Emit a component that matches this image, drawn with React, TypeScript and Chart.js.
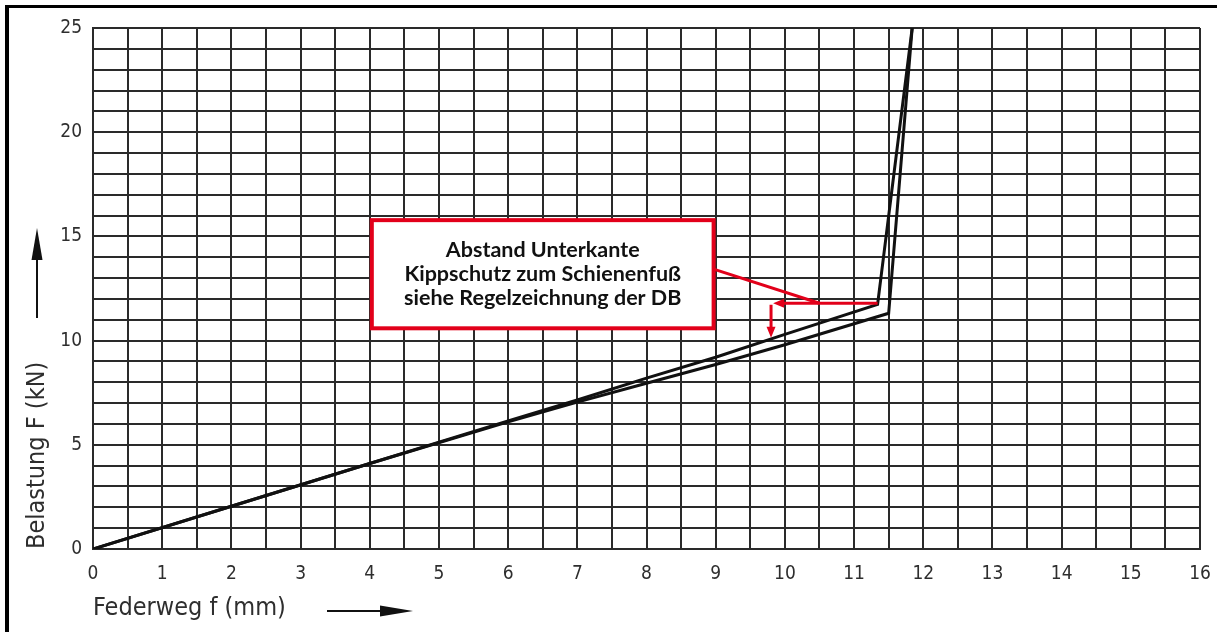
import React, { useEffect, useRef } from 'react';
import { Chart, registerables } from 'chart.js';

Chart.register(...registerables);

// ---- data ----
const upperX = [0, 2, 4, 6, 7, 8, 9, 10, 11.34, 11.84];
const upperY = [0, 2.05, 4.1, 6.15, 7.15, 8.2, 9.2, 10.3, 11.74, 25];
const lowerX = [0, 2, 4, 6, 7, 8, 9, 10, 11.5, 11.84];
const lowerY = [0, 2.05, 4.1, 6.1, 7.05, 7.95, 8.85, 9.8, 11.31, 25];

const xMin = 0;
const xMax = 16;
const xGridStep = 0.5;
const xLabelEvery = 1;
const yMin = 0;
const yMax = 25;
const yGridStep = 1;
const yLabelEvery = 5;

const xTitle = 'Federweg f (mm)';
const yTitle = 'Belastung F (kN)';

const noteLines = ['Abstand Unterkante', 'Kippschutz zum Schienenfuß', 'siehe Regelzeichnung der DB'];
// note box corners (data units)
const noteBoxX = [4.03, 8.97];
const noteBoxY = [15.78, 10.59];
// leader: box edge -> elbow
const leaderFrom = [8.97, 13.43];
const leaderTo = [10.5, 11.79];
// horizontal arrow from knee to the left, then vertical arrow downward
const hArrowFrom = [11.34, 11.79];
const hArrowTo = [9.83, 11.79];
const vArrowFrom = [9.8, 11.72];
const vArrowTo = [9.8, 10.14];

const TICK_FONT = "'DejaVu Sans Condensed', 'DejaVu Sans', sans-serif";
const NOTE_FONT = "Lato, 'Open Sans', sans-serif";
const RED = '#e2001a';
const INK = '#2e2e2e';

function arrowHead(ctx: CanvasRenderingContext2D, tx: number, ty: number, fx: number, fy: number, len: number, half: number) {
  const a = Math.atan2(ty - fy, tx - fx);
  const bx = tx - Math.cos(a) * len;
  const by = ty - Math.sin(a) * len;
  const nx = -Math.sin(a) * half;
  const ny = Math.cos(a) * half;
  ctx.beginPath();
  ctx.moveTo(tx, ty);
  ctx.lineTo(bx + nx, by + ny);
  ctx.lineTo(bx - nx, by - ny);
  ctx.closePath();
  ctx.fill();
}

const decorPlugin = {
  id: 'decor',
  beforeDraw(chart: any) {
    const ctx = chart.ctx as CanvasRenderingContext2D;
    ctx.save();
    ctx.fillStyle = '#ffffff';
    ctx.fillRect(0, 0, chart.width, chart.height);
    ctx.restore();
  },
  afterDraw(chart: any) {
    const ctx = chart.ctx as CanvasRenderingContext2D;
    const xs = chart.scales.x;
    const ys = chart.scales.y;
    const px = (v: number) => xs.getPixelForValue(v);
    const py = (v: number) => ys.getPixelForValue(v);
    ctx.save();

    // frame (top and left)
    ctx.fillStyle = '#000';
    ctx.fillRect(5, 5, chart.width - 5, 3);
    ctx.fillRect(5, 5, 4, chart.height - 5);

    // axis arrows
    ctx.strokeStyle = '#111';
    ctx.fillStyle = '#111';
    ctx.lineWidth = 2;
    const ax = 37;
    ctx.beginPath();
    ctx.moveTo(ax, 318);
    ctx.lineTo(ax, 250);
    ctx.stroke();
    arrowHead(ctx, ax, 228, ax, 318, 32, 5.5);

    const ay = 611;
    ctx.beginPath();
    ctx.moveTo(327, ay);
    ctx.lineTo(390, ay);
    ctx.stroke();
    arrowHead(ctx, 413, ay, 327, ay, 33, 5.5);

    // note box
    const bx0 = px(noteBoxX[0]);
    const bx1 = px(noteBoxX[1]);
    const by0 = py(noteBoxY[0]);
    const by1 = py(noteBoxY[1]);
    ctx.fillStyle = '#ffffff';
    ctx.fillRect(bx0, by0, bx1 - bx0, by1 - by0);
    ctx.strokeStyle = RED;
    ctx.lineWidth = 4;
    ctx.strokeRect(bx0, by0, bx1 - bx0, by1 - by0);

    ctx.fillStyle = '#111';
    ctx.font = `bold 21.5px ${NOTE_FONT}`;
    ctx.textAlign = 'center';
    ctx.textBaseline = 'middle';
    const cx = (bx0 + bx1) / 2;
    const cy = (by0 + by1) / 2;
    const lh = 24;
    noteLines.forEach((t, i) => {
      ctx.fillText(t, cx, cy + (i - (noteLines.length - 1) / 2) * lh);
    });

    // leader lines
    ctx.strokeStyle = RED;
    ctx.fillStyle = RED;
    ctx.lineWidth = 3;
    ctx.beginPath();
    ctx.moveTo(px(leaderFrom[0]), py(leaderFrom[1]));
    ctx.lineTo(px(leaderTo[0]), py(leaderTo[1]));
    ctx.stroke();

    const hx0 = px(hArrowFrom[0]);
    const hy = py(hArrowFrom[1]);
    const hx1 = px(hArrowTo[0]);
    ctx.beginPath();
    ctx.moveTo(hx0, hy);
    ctx.lineTo(hx1 + 8, hy);
    ctx.stroke();
    arrowHead(ctx, hx1, hy, hx0, hy, 11, 4.5);

    const vx = px(vArrowFrom[0]);
    const vy0 = py(vArrowFrom[1]);
    const vy1 = py(vArrowTo[1]);
    ctx.beginPath();
    ctx.moveTo(vx, vy0);
    ctx.lineTo(vx, vy1 - 8);
    ctx.stroke();
    arrowHead(ctx, vx, vy1, vx, vy0, 11, 4.5);

    ctx.restore();
  },
};

export default function App() {
  const ref = useRef<HTMLCanvasElement | null>(null);

  useEffect(() => {
    if (!ref.current) return;
    const upper = upperX.map((x, i) => ({ x, y: upperY[i] }));
    const lower = lowerX.map((x, i) => ({ x, y: lowerY[i] }));
    const chart = new Chart(ref.current, {
      type: 'line',
      data: {
        datasets: [
          { label: 'a', data: upper, borderColor: '#111', borderWidth: 3, pointRadius: 0, tension: 0, fill: false },
          { label: 'b', data: lower, borderColor: '#111', borderWidth: 3, pointRadius: 0, tension: 0, fill: false },
        ],
      },
      options: {
        animation: false,
        responsive: false,
        events: [],
        layout: { padding: { left: 0, top: 28, right: 17, bottom: 0 } },
        plugins: { legend: { display: false }, tooltip: { enabled: false } },
        scales: {
          x: {
            type: 'linear',
            min: xMin,
            max: xMax,
            afterFit: (s: any) => { s.height = 83; s.paddingLeft = 0; s.paddingRight = 0; },
            grid: { color: '#2a2a2a', lineWidth: 2, drawTicks: false },
            border: { color: '#2a2a2a', width: 2 },
            ticks: {
              stepSize: xGridStep,
              autoSkip: false,
              maxRotation: 0,
              padding: 14,
              color: INK,
              font: { family: TICK_FONT, size: 19 },
              callback: (v: any) => (Math.abs(v / xLabelEvery - Math.round(v / xLabelEvery)) < 1e-6 ? String(v) : ''),
            },
            title: {
              display: true,
              text: xTitle,
              align: 'start',
              color: INK,
              font: { family: TICK_FONT, size: 25 },
              padding: { top: 0, bottom: 9 },
            },
          },
          y: {
            type: 'linear',
            min: yMin,
            max: yMax,
            afterFit: (s: any) => { s.width = 93; s.paddingTop = 0; s.paddingBottom = 0; },
            grid: { color: '#2a2a2a', lineWidth: 2, drawTicks: false },
            border: { color: '#2a2a2a', width: 2 },
            ticks: {
              stepSize: yGridStep,
              autoSkip: false,
              padding: 11,
              color: INK,
              font: { family: TICK_FONT, size: 19 },
              callback: (v: any) => (Math.abs(v / yLabelEvery - Math.round(v / yLabelEvery)) < 1e-6 ? String(v) : ''),
            },
            title: {
              display: true,
              text: yTitle,
              align: 'start',
              color: INK,
              font: { family: TICK_FONT, size: 25 },
              padding: { top: 22, bottom: 0 },
            },
          },
        },
      },
      plugins: [decorPlugin],
    });
    return () => chart.destroy();
  }, []);

  return (
    <div style={{ position: 'fixed', left: 0, top: 0, width: 1217, height: 632, background: '#fff' }}>
      <canvas ref={ref} width={1217} height={632} style={{ display: 'block' }} />
    </div>
  );
}
